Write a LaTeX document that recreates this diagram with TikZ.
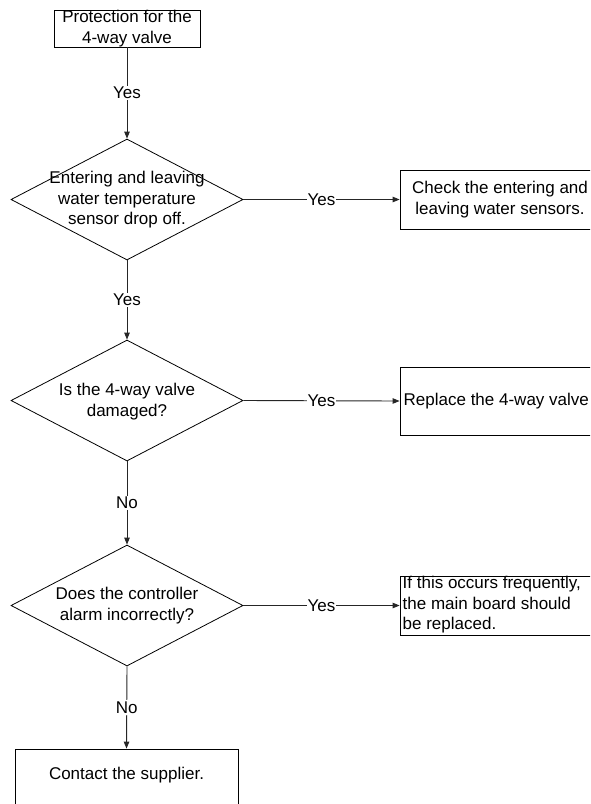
\documentclass[tikz,border=0pt]{standalone}
\usepackage{fontspec}
\setmainfont{Liberation Sans}
\usetikzlibrary{shapes.geometric,arrows.meta}
\begin{document}
\begin{tikzpicture}[x=1pt,y=-1pt,
  font=\fontsize{17}{20.5}\selectfont,
  box/.style={draw=black,line width=0.8pt,rectangle,inner sep=0pt},
  dec/.style={draw=black,line width=0.8pt,diamond,inner sep=0pt,minimum width=232pt,minimum height=121pt},
  txt/.style={inner sep=0pt,align=center},
  ltxt/.style={inner sep=0pt,align=left,anchor=west},
  conn/.style={draw=black!85,line width=0.9pt,-{Triangle[length=7pt,width=5.5pt]}},
  lab/.style={fill=white,inner sep=1.5pt}]
\useasboundingbox (0,0) rectangle (590,804);
\clip (0,0) rectangle (590,804);
% top box
\node[box,minimum width=146pt,minimum height=37pt] (start) at (127,28.5) {};
\node[txt] (starttxt) at (127,28.5) {Protection for the\\4-way valve};
% diamonds
\node[dec] (d1) at (127,199.5) {};
\node[txt] (d1t) at (127,200) {Entering and leaving\\water temperature\\sensor drop off.};
\node[dec] (d2) at (127,400.5) {};
\node[txt] (d2t) at (127,401.5) {Is the 4-way valve\\damaged?};
\node[dec] (d3) at (127,605.5) {};
\node[txt] (d3t) at (127,605.5) {Does the controller\\alarm incorrectly?};
% right boxes
\node[box,minimum width=200pt,minimum height=59pt] (b1) at (500,199.5) {};
\node[txt] (b1t) at (500,199.5) {Check the entering and\\leaving water sensors.};
\node[box,minimum width=200pt,minimum height=68pt] (b2) at (500,401) {};
\node[ltxt] (b2t) at (403.5,401) {Replace the 4-way valve};
\node[box,minimum width=200pt,minimum height=59pt] (b3) at (500,605.5) {};
\node[ltxt] (b3t) at (402.5,605) {If this occurs frequently,\\the main board should\\be replaced.};
% bottom box
\node[box,minimum width=223pt,minimum height=70pt] (end) at (126.5,784) {};
\node[txt] (endt) at (126.5,775) {Contact the supplier.};
% connectors
\draw[conn] (start.south) -- node[lab] {Yes} (d1.north);
\draw[conn] (d1.south) -- node[lab] {Yes} (d2.north);
\draw[conn] (d2.south) -- node[lab] {No} (d3.north);
\draw[conn] (d3.south) -- node[lab,pos=0.5] {No} (end.north);
\draw[conn] (d1.east) -- node[lab,inner xsep=0.5pt] {Yes} (b1.west);
\draw[conn] (d2.east) -- node[lab,inner xsep=0.5pt] {Yes} (b2.west);
\draw[conn] (d3.east) -- node[lab,inner xsep=0.5pt] {Yes} (b3.west);
\end{tikzpicture}
\end{document}
